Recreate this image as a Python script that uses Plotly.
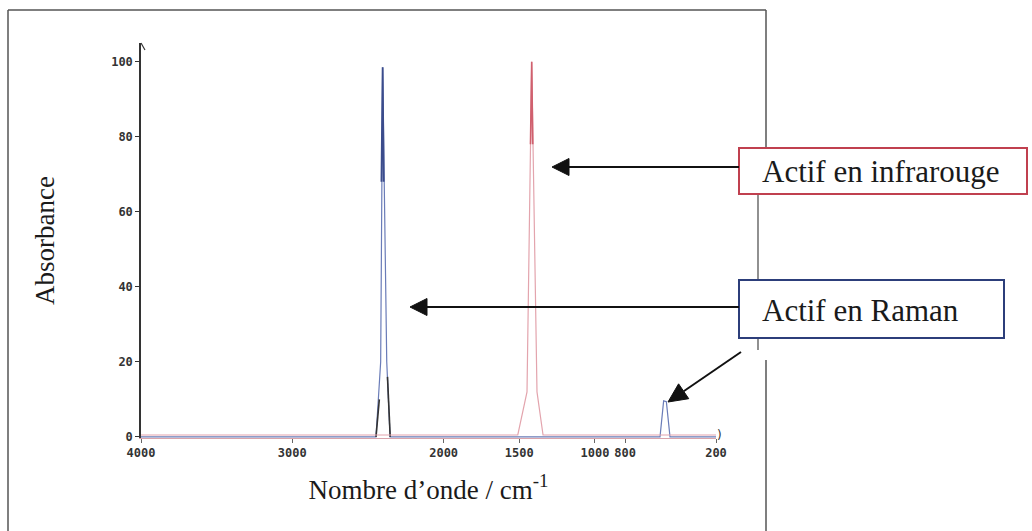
import math
import plotly.graph_objects as go

# ---- data (wavenumber in cm-1, absorbance in %) ----
ir_wavenumber = [4000, 1510, 1449, 1418, 1383, 1343, 200]
ir_absorbance = [0.5, 0.5, 12, 100, 12, 0.5, 0.5]
ir_top_wavenumber = [1426, 1418, 1411]
ir_top_absorbance = [78, 100, 78]

raman_wavenumber = [4000, 2460, 2447, 2416, 2403, 2376, 2354, 2340, 600, 570, 546, 528, 504, 200]
raman_absorbance = [0, 0, 0, 20, 98.5, 20, 0, 0, 0, 0, 9.6, 9.4, 0, 0]
raman_top_wavenumber = [2411, 2403, 2396]
raman_top_absorbance = [68, 98.5, 68]
dark_wavenumber = [2447, 2425, None, 2353, 2371]
dark_absorbance = [0, 10, None, 0, 16]

x_ticks = [4000, 3000, 2000, 1500, 1000, 800, 200]
x_tick_labels = ["4000", "3000", "2000", "1500", "1000", "800", "200"]
y_ticks = [0, 20, 40, 60, 80, 100]
y_tick_labels = ["0", "20", "40", "60", "80", "100"]

label_ir = "Actif en infrarouge"
label_raman = "Actif en Raman"
x_title = "Nombre d’onde / cm<sup>-1</sup>"
y_title = "Absorbance"

# ---- layout geometry (pixels) ----
W, H = 1032, 531
L, R, T, B = 141, 316, 43, 93
PW, PH = W - L - R, H - T - B


def px(xp):
    return (xp - L) / PW


def py(yp):
    return (H - B - yp) / PH


fig = go.Figure()
fig.add_trace(go.Scatter(x=raman_wavenumber, y=raman_absorbance, mode="lines",
                         line=dict(color="#6a7cb8", width=1.2), hoverinfo="skip"))
fig.add_trace(go.Scatter(x=raman_top_wavenumber, y=raman_top_absorbance, mode="lines",
                         line=dict(color="#3b4c8c", width=1.8), hoverinfo="skip"))
fig.add_trace(go.Scatter(x=dark_wavenumber, y=dark_absorbance, mode="lines",
                         line=dict(color="#333333", width=1.6), hoverinfo="skip"))
fig.add_trace(go.Scatter(x=ir_wavenumber, y=ir_absorbance, mode="lines",
                         line=dict(color="#e3a4ad", width=1.2), hoverinfo="skip"))
fig.add_trace(go.Scatter(x=ir_top_wavenumber, y=ir_top_absorbance, mode="lines",
                         line=dict(color="#d0606e", width=1.6), hoverinfo="skip"))

tickfont = dict(family="DejaVu Sans Mono", size=12, color="#333333", weight="bold")
serif = "Liberation Serif"


def pline(x0, y0, x1, y1, color, width):
    return dict(type="line", xref="paper", yref="paper", x0=px(x0), x1=px(x1),
                y0=py(y0), y1=py(y1), line=dict(color=color, width=width))


def arrow(tail, tip, head_len=17, half_w=8.5, color="#111"):
    dx, dy = tip[0] - tail[0], tip[1] - tail[1]
    d = math.hypot(dx, dy)
    ux, uy = dx / d, dy / d
    bx, by = tip[0] - head_len * ux, tip[1] - head_len * uy
    nx, ny = -uy, ux
    p1 = (bx + half_w * nx, by + half_w * ny)
    p2 = (bx - half_w * nx, by - half_w * ny)
    path = "M {} {} L {} {} L {} {} Z".format(px(tip[0]), py(tip[1]), px(p1[0]), py(p1[1]),
                                              px(p2[0]), py(p2[1]))
    return [pline(tail[0], tail[1], bx, by, color, 2),
            dict(type="path", xref="paper", yref="paper", path=path, fillcolor=color,
                 line=dict(color=color, width=1))]


shapes = []
frame_col = "#555555"
shapes += [
    pline(8, 10, 8, 540, frame_col, 1.5),
    pline(8, 10, 766, 10, frame_col, 1.5),
    pline(766, 10, 766, 148, frame_col, 1.5),
    pline(758, 195, 758, 280, frame_col, 1.3),
    pline(758, 338, 758, 350, frame_col, 1.3),
    pline(766, 360, 766, 540, frame_col, 1.5),
    pline(141, 43, 145, 50, "#333", 1.2),
]
shapes += [
    dict(type="rect", xref="paper", yref="paper", x0=px(739), x1=px(1027), y0=py(148), y1=py(194),
         line=dict(color="#c0404f", width=2), fillcolor="white"),
    dict(type="rect", xref="paper", yref="paper", x0=px(739), x1=px(1004), y0=py(280), y1=py(338),
         line=dict(color="#2c3e7a", width=2), fillcolor="white"),
]
shapes += arrow((739, 167), (552, 167))
shapes += arrow((739, 307), (410, 307))
shapes += arrow((741, 352), (668, 402), head_len=19, half_w=9)

annotations = [
    dict(xref="paper", yref="paper", x=px(760), y=py(171), xanchor="left", yanchor="middle",
         text=label_ir, showarrow=False, font=dict(family=serif, size=31, color="#1a1a1a")),
    dict(xref="paper", yref="paper", x=px(760), y=py(310), xanchor="left", yanchor="middle",
         text=label_raman, showarrow=False, font=dict(family=serif, size=31, color="#1a1a1a")),
    dict(xref="paper", yref="paper", x=px(719), y=py(435), xanchor="center", yanchor="middle",
         text=")", showarrow=False, font=dict(family="DejaVu Sans", size=12, color="#333")),
]

fig.update_layout(
    width=W, height=H,
    margin=dict(l=L, r=R, t=T, b=B, pad=0),
    paper_bgcolor="white", plot_bgcolor="white",
    showlegend=False,
    shapes=shapes,
    annotations=annotations,
    xaxis=dict(range=[4000, 200], tickvals=x_ticks, ticktext=x_tick_labels,
               showgrid=False, zeroline=False, showline=True, linecolor="#d9a3ab", linewidth=1,
               ticks="outside", ticklen=4, tickcolor="#666", tickfont=tickfont,
               title=dict(text=x_title, standoff=20,
                          font=dict(family=serif, size=27, color="#1a1a1a"))),
    yaxis=dict(range=[-0.3, 105], tickvals=y_ticks, ticktext=y_tick_labels,
               showgrid=False, zeroline=False, showline=True, linecolor="#333", linewidth=1.5,
               ticks="outside", ticklen=4, tickcolor="#333", tickfont=tickfont,
               title=dict(text=y_title, standoff=49,
                          font=dict(family=serif, size=27, color="#1a1a1a"))),
)

fig.write_html("out.html", config={"displayModeBar": False},
               post_script="document.body.style.margin='0';document.body.style.padding='0';")
